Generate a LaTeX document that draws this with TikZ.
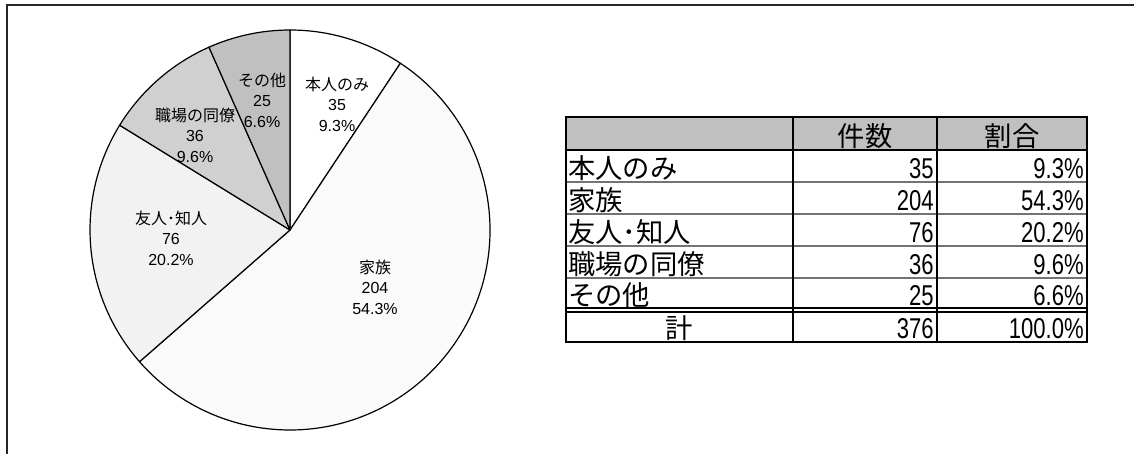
\documentclass[tikz,border=0pt]{standalone}
\usepackage{fontspec}
\setmainfont{Liberation Sans}
\newfontfamily\jp{Noto Sans CJK JP}
\newfontfamily\cond{Liberation Sans}[FakeStretch=0.77]
\definecolor{sOther}{HTML}{C0C0C0}
\definecolor{sWork}{HTML}{D0D0D0}
\definecolor{sFriend}{HTML}{F2F2F2}
\definecolor{sFamily}{HTML}{FAFAFA}
\definecolor{hdr}{HTML}{C0C0C0}
\begin{document}
\begin{tikzpicture}[x=0.75pt,y=-0.75pt,
  slice/.style={draw=black,line width=0.9pt,line join=round},
  plab/.style={align=center,inner sep=0pt,font=\fontsize{12}{15.4}\selectfont},
  tcell/.style={inner sep=0pt,font=\fontsize{20.5}{21}\selectfont},
  tnum/.style={inner sep=0pt,font=\fontsize{21.5}{22}\selectfont\cond},
  thick2/.style={line width=1.6pt,black},
  thin1/.style={line width=0.8pt,black!55}]
\useasboundingbox (0,0) rectangle (1134,453);
\clip (0,0) rectangle (1134,453);
% outer frame
\draw[line width=1.5pt,black!85] (7,470) -- (7,5) -- (1150,5);
% pie
\coordinate (c) at (290,230);
\filldraw[slice,fill=white]   (c) -- ++(-90:200) arc[start angle=-90,end angle=-56.5,radius=200] -- cycle;
\filldraw[slice,fill=sFamily] (c) -- ++(-56.5:200) arc[start angle=-56.5,end angle=138.8,radius=200] -- cycle;
\filldraw[slice,fill=sFriend] (c) -- ++(138.8:200) arc[start angle=138.8,end angle=211.6,radius=200] -- cycle;
\filldraw[slice,fill=sWork]   (c) -- ++(211.6:200) arc[start angle=211.6,end angle=246.1,radius=200] -- cycle;
\filldraw[slice,fill=sOther]  (c) -- ++(246.1:200) arc[start angle=246.1,end angle=270,radius=200] -- cycle;
% pie labels
\node[plab] (l1) at (337,104) {{\jp 本人のみ}\\35\\9.3\%};
\node[plab] (l2) at (375,287) {{\jp 家族}\\204\\54.3\%};
\node[plab] (l3) at (171,238) {{\jp 友人･知人}\\76\\20.2\%};
\node[plab] (l4) at (195,135) {{\jp 職場の同僚}\\36\\9.6\%};
\node[plab] (l5) at (262,100) {{\jp その他}\\25\\6.6\%};
% table
\fill[hdr] (566,117) rectangle (1087,150);
\foreach \yy in {182,214,246,278} \draw[thin1] (566,\yy) -- (1087,\yy);
\draw[thick2] (566,150) -- (1087,150);
\draw[thick2] (566,308) -- (1087,308);
\draw[thick2] (566,312) -- (1087,312);
\draw[thick2] (793,117) -- (793,342);
\draw[thick2] (937,117) -- (937,342);
\draw[thick2] (566,117) rectangle (1087,342);
% header
\node[tcell,anchor=base] (h1) at (865,146) {\jp 件数};
\node[tcell,anchor=base] (h2) at (1012,146) {\jp 割合};
% rows
\node[tcell,anchor=base west] (r1) at (568,178) {\jp 本人のみ};
\node[tnum,anchor=base east] (n1) at (934,178) {35};
\node[tnum,anchor=base east] (p1) at (1084,178) {9.3\%};
\node[tcell,anchor=base west] (r2) at (568,210) {\jp 家族};
\node[tnum,anchor=base east] (n2) at (934,210) {204};
\node[tnum,anchor=base east] (p2) at (1084,210) {54.3\%};
\node[tcell,anchor=base west] (r3) at (568,242) {\jp 友人･知人};
\node[tnum,anchor=base east] (n3) at (934,242) {76};
\node[tnum,anchor=base east] (p3) at (1084,242) {20.2\%};
\node[tcell,anchor=base west] (r4) at (568,274) {\jp 職場の同僚};
\node[tnum,anchor=base east] (n4) at (934,274) {36};
\node[tnum,anchor=base east] (p4) at (1084,274) {9.6\%};
\node[tcell,anchor=base west] (r5) at (568,305) {\jp その他};
\node[tnum,anchor=base east] (n5) at (934,305) {25};
\node[tnum,anchor=base east] (p5) at (1084,305) {6.6\%};
\node[tcell,anchor=base] (r6) at (679,338) {\jp 計};
\node[tnum,anchor=base east] (n6) at (934,338) {376};
\node[tnum,anchor=base east] (p6) at (1084,338) {100.0\%};
\end{tikzpicture}
\end{document}
